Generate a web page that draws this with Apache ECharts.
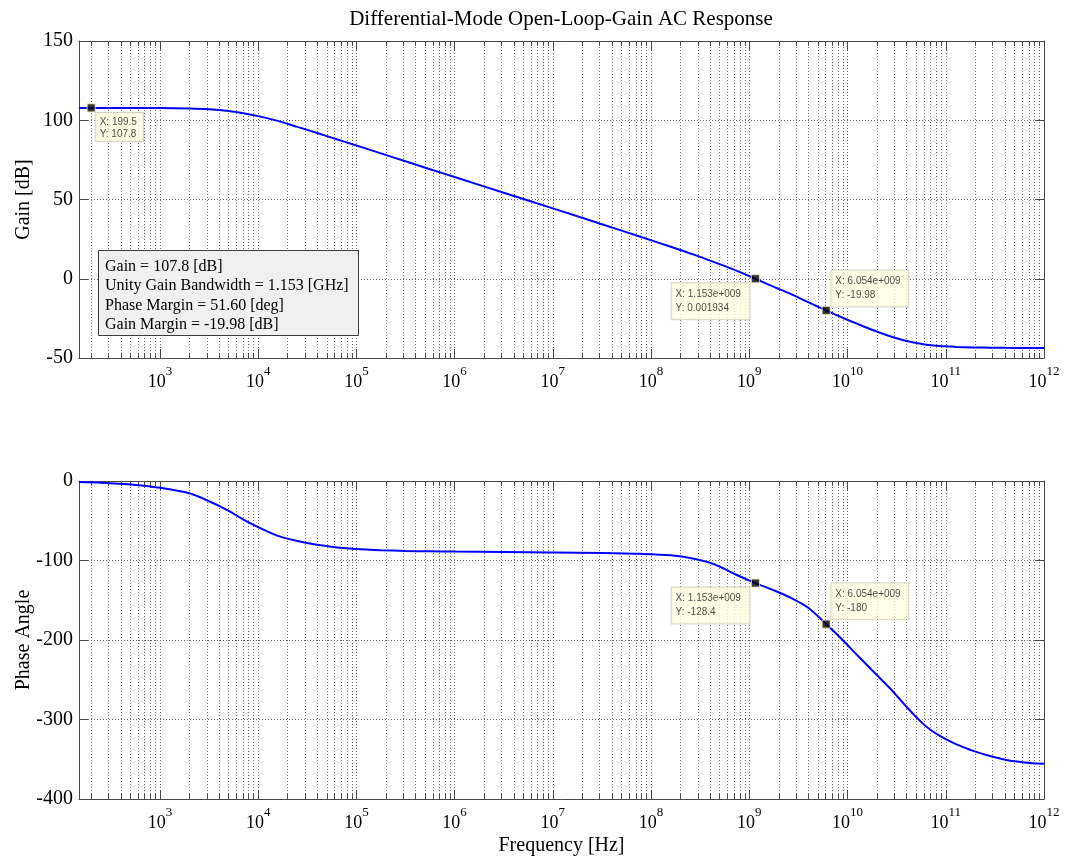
<!DOCTYPE html>
<html><head><meta charset="utf-8">
<script src="https://cdn.jsdelivr.net/npm/echarts@6/dist/echarts.min.js"></script>
<style>html,body{margin:0;padding:0;background:#fff}#c{width:1066px;height:861px}</style>
</head><body><div id="c"></div>
<script>
// ---- data (frequency as log10 of Hz) ----
const FREQ_MIN_HZ = 150;
const FREQ_MAX_HZ = 1e12;
const logFreq = [2.176,2.4,2.7,3.0,3.3,3.5,3.7,3.85,4.0,4.2,4.4,4.6,4.8,5.0,5.25,5.5,5.75,6.0,6.5,7.0,7.5,7.9,8.2,8.45,8.65,8.85,9.062,9.25,9.415,9.6,9.782,9.95,10.09,10.25,10.434,10.6,10.7,10.77,10.85,10.94,11.03,11.11,11.28,11.45,11.62,11.8,12.0];
const gainDb = [107.8,107.8,107.8,107.7,107.4,106.9,105.8,104.4,102.6,99.6,95.8,92.0,88.0,84.1,79.1,74.1,69.1,64.2,54.3,44.4,34.4,26.3,20.2,14.9,10.3,5.6,0.0,-5.1,-9.4,-14.8,-19.98,-24.6,-28.2,-32.2,-36.3,-39.3,-40.5,-41.3,-41.9,-42.4,-42.7,-43.0,-43.3,-43.5,-43.6,-43.65,-43.7];
const phaseDeg = [-1.3,-2.1,-4.3,-8.5,-15.5,-25.5,-37.5,-48.5,-58,-69,-75.5,-80.3,-83.5,-85.5,-87.0,-88.0,-88.5,-88.8,-89.2,-89.8,-90.5,-91.6,-93.5,-98.0,-105,-117,-128.4,-137.5,-146.5,-159.5,-180,-200,-218,-238,-261,-284,-297,-305.5,-313.5,-320.5,-326.5,-331.2,-339.5,-346,-351,-354,-355.8];
const majorExp = [3,4,5,6,7,8,9,10,11,12];
const gainAxis = {min:-50, max:150, step:50};
const phaseAxis = {min:-400, max:0, step:100};
const gainTipHz = [199.5, 1.153e9, 6.054e9];
const gainTipDb = [107.8, 0.001934, -19.98];
const gainTipText = ['X: 199.5\nY: 107.8', 'X: 1.153e+009\nY: 0.001934', 'X: 6.054e+009\nY: -19.98'];
const phaseTipHz = [1.153e9, 6.054e9];
const phaseTipDeg = [-128.4, -180];
const phaseTipText = ['X: 1.153e+009\nY: -128.4', 'X: 6.054e+009\nY: -180'];
const summaryLines = ['Gain = 107.8 [dB]','Unity Gain Bandwidth = 1.153 [GHz]','Phase Margin = 51.60 [deg]','Gain Margin = -19.98 [dB]'];
const titleText = 'Differential-Mode Open-Loop-Gain AC Response';

// ---- derived ----
const xMin = Math.log10(FREQ_MIN_HZ), xMax = Math.log10(FREQ_MAX_HZ);
const allTicks = [];
for (let e = 2; e <= 11; e++) for (let m = 1; m <= 9; m++) {
  const v = e + Math.log10(m);
  if (v >= xMin - 1e-9 && v <= xMax + 1e-9) allTicks.push(v);
}
allTicks.push(xMax);

const SERIF = '"Liberation Serif","Times New Roman",serif';
const SANS = '"Liberation Sans",Arial,sans-serif';
const BOX = '#4a4a4a';
const GRIDC = '#6a6a6a';

const grids = [
  {left:79, top:41, width:965, height:317, outerBoundsMode:'none', containLabel:false},
  {left:79, top:481, width:965, height:318, outerBoundsMode:'none', containLabel:false}
];

function xAx(gi, pos, ticks, len, withLine, withSplit, withLabel, extra) {
  return Object.assign({
    type:'value', gridIndex:gi, position:pos, min:xMin, max:xMax,
    axisLine:{show:withLine, onZero:false, lineStyle:{color:BOX, width:1}},
    axisTick:{show:true, inside:true, length:len, customValues:ticks, lineStyle:{color:BOX, width:1}},
    splitLine:{show:withSplit, lineStyle:{color:GRIDC, type:[1,2], width:1}},
    axisLabel: withLabel ? {
      show:true, customValues:majorExp, margin:7,
      formatter: v => '{b|10}{s|' + Math.round(v) + '}',
      rich:{
        b:{fontFamily:SERIF, fontSize:18, color:'#000', lineHeight:26, verticalAlign:'bottom'},
        s:{fontFamily:SERIF, fontSize:13, color:'#000', lineHeight:8, verticalAlign:'top'}
      }
    } : {show:false}
  }, extra || {});
}
const xAxes = [];
for (let gi = 0; gi < 2; gi++) {
  xAxes.push(xAx(gi, 'bottom', allTicks, 5, true, true, false));
  const extra = gi === 1 ? {name:'Frequency [Hz]', nameLocation:'middle', nameGap:37, nameMoveOverlap:false,
    nameTextStyle:{fontFamily:SERIF, fontSize:20, color:'#000'}} : {};
  xAxes.push(xAx(gi, 'bottom', majorExp, 9, false, false, true, extra));
  xAxes.push(xAx(gi, 'top', allTicks, 5, true, false, false));
  xAxes.push(xAx(gi, 'top', majorExp, 9, false, false, false));
}

function yAx(gi, pos, a, name) {
  const left = pos === 'left';
  return {
    type:'value', gridIndex:gi, position:pos, min:a.min, max:a.max, interval:a.step,
    axisLine:{show:true, onZero:false, lineStyle:{color:BOX, width:1}},
    axisTick:{show:true, inside:true, length:9, lineStyle:{color:BOX, width:1}},
    splitLine:{show:left, lineStyle:{color:GRIDC, type:[1,2], width:1}},
    axisLabel:{show:left, margin:6, fontFamily:SERIF, fontSize:20, color:'#000'},
    name: left ? name : '', nameLocation:'middle', nameGap:45, nameMoveOverlap:false,
    nameTextStyle:{fontFamily:SERIF, fontSize:20, color:'#000'}
  };
}
const yAxes = [
  yAx(0, 'left', gainAxis, 'Gain [dB]'), yAx(0, 'right', gainAxis, ''),
  yAx(1, 'left', phaseAxis, 'Phase Angle'), yAx(1, 'right', phaseAxis, '')
];

const tipLabelBase = {
  show:true, fontFamily:SANS, fontSize:10, color:'#1a1a1a', align:'left',
  backgroundColor:'#ffffe1', borderColor:'#c9c9bb', borderWidth:1
};
// placement per tip: [dx, dy, verticalAlign, lineHeight, padding, width]
const gainPlace = [
  [9, 9.7, 'top', 12, [3,6,1,4], null],
  [-79.3, 9, 'top', 14, [4,6,4,4], 68],
  [9.7, 0.7, 'bottom', 14, [4,6,4,4], 67]
];
const phasePlace = [
  [-79.3, 9, 'top', 14, [4,6,4,4], 68],
  [9.7, -0.4, 'bottom', 14, [4,6,4,4], 67]
];
function tips(hz, vals, texts, place) {
  return hz.map((f, i) => {
    const p = place[i];
    const lab = Object.assign({}, tipLabelBase, {formatter:texts[i], position:[p[0], p[1]], verticalAlign:p[2], lineHeight:p[3], padding:p[4]});
    if (p[5]) lab.width = p[5];
    return {value:[Math.log10(f), vals[i]], label:lab};
  });
}
const markerStyle = {color:'#000', borderColor:'#efe6b4', borderWidth:1};

const option = {
  backgroundColor:'#fff',
  animation:false,
  title:{text:titleText, left:556, top:4, textAlign:'center',
    textStyle:{fontFamily:SERIF, fontSize:21, fontWeight:'normal', color:'#000'}},
  grid:grids,
  xAxis:xAxes,
  yAxis:yAxes,
  series:[
    {type:'line', xAxisIndex:0, yAxisIndex:0, data:logFreq.map((x,i)=>[x,gainDb[i]]), smooth:0.3,
      showSymbol:false, lineStyle:{color:'#0000ff', width:2}, z:3},
    {type:'line', xAxisIndex:4, yAxisIndex:2, data:logFreq.map((x,i)=>[x,phaseDeg[i]]), smooth:0.3,
      showSymbol:false, lineStyle:{color:'#0000ff', width:2}, z:3},
    {type:'scatter', xAxisIndex:0, yAxisIndex:0, symbol:'rect', symbolSize:8, itemStyle:markerStyle, z:5,
      data:tips(gainTipHz, gainTipDb, gainTipText, gainPlace)},
    {type:'scatter', xAxisIndex:4, yAxisIndex:2, symbol:'rect', symbolSize:8, itemStyle:markerStyle, z:5,
      data:tips(phaseTipHz, phaseTipDeg, phaseTipText, phasePlace)}
  ],
  graphic:[
    {type:'rect', shape:{x:98.5, y:250.5, width:260, height:85}, style:{fill:'#f0f0f0', stroke:'#3c3c3c', lineWidth:1}, z:10},
    {type:'text', x:105, y:257, style:{text:summaryLines.join('\n'), font:'16px ' + SERIF, lineHeight:19.5, fill:'#000'}, z:11}
  ]
};
const chart = echarts.init(document.getElementById('c'), null, {renderer:'canvas'});
chart.setOption(option);
</script>
</body></html>
